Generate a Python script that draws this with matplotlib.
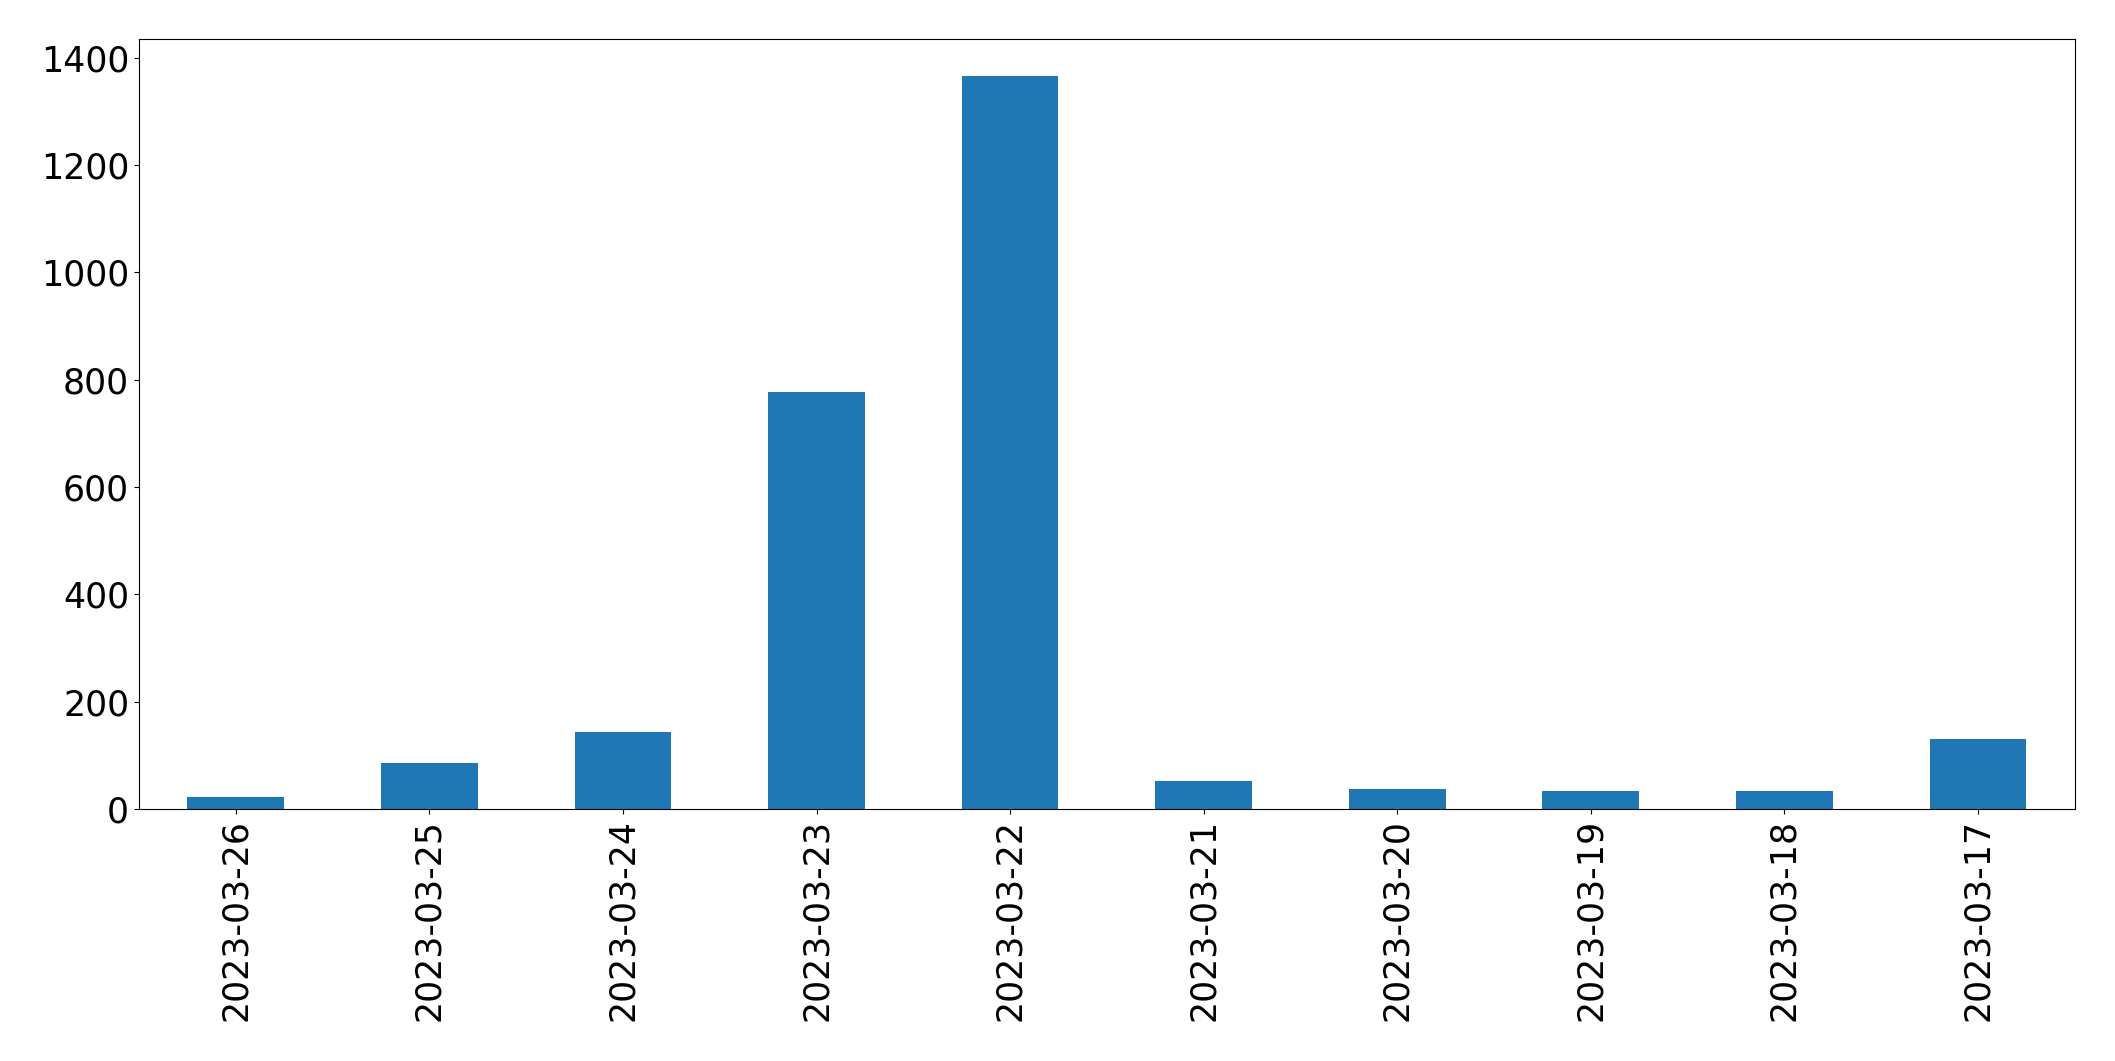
import matplotlib
matplotlib.use("Agg")
import matplotlib.pyplot as plt
import pandas as pd

# counts per day, newest first (as in the original)
dates = ['2023-03-26', '2023-03-25', '2023-03-24', '2023-03-23', '2023-03-22',
         '2023-03-21', '2023-03-20', '2023-03-19', '2023-03-18', '2023-03-17']
counts = [22, 86, 144, 777, 1366, 52, 37, 33, 33, 131]

plt.rcParams["font.size"] = 25

s = pd.Series(counts, index=dates)

fig = plt.figure(figsize=(21.15, 10.61), dpi=100)
ax = fig.add_subplot(1, 1, 1)
s.plot.bar(ax=ax, color='C0')
ax.tick_params(axis='both', labelsize=25)

plt.subplots_adjust(left=0.0657, right=0.981, top=0.963, bottom=0.2375)
plt.savefig('out.png', dpi=100)
